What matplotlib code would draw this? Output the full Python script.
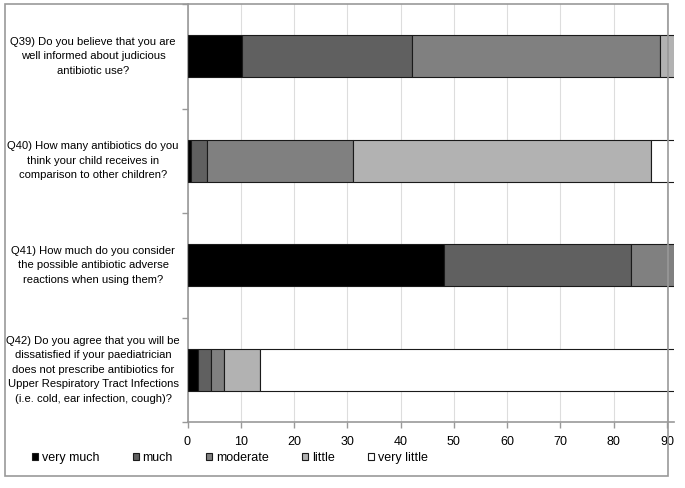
import numpy as np
import matplotlib

matplotlib.use('Agg')
import matplotlib.pyplot as plt
from matplotlib.patches import Rectangle

plt.rcParams['font.family'] = ['Liberation Sans', 'DejaVu Sans']

questions = [
    'Q39) Do you believe that you are\nwell informed about judicious\nantibiotic use?',
    'Q40) How many antibiotics do you\nthink your child receives in\ncomparison to other children?',
    'Q41) How much do you consider\nthe possible antibiotic adverse\nreactions when using them?',
    'Q42) Do you agree that you will be\ndissatisfied if your paediatrician\ndoes not prescribe antibiotics for\n'
    'Upper Respiratory Tract Infections\n(i.e. cold, ear infection, cough)?',
]
categories = ['very much', 'much', 'moderate', 'little', 'very little']
very_much = [10.2, 0.6, 48.2, 1.9]
much = [31.9, 3.0, 35.1, 2.5]
moderate = [46.6, 27.4, 16.7, 2.5]
little = [11.3, 56.0, 0.0, 6.8]
very_little = [0.0, 13.0, 0.0, 86.3]
series = [very_much, much, moderate, little, very_little]
colors = ['#000000', '#606060', '#808080', '#b2b2b2', '#ffffff']

W, H = 685, 488
fig = plt.figure(figsize=(W / 100, H / 100), dpi=100)

# plot area in pixels
x0_px, x1_px = 187.5, 674.4
y_top, y_bot = 4, 422
ax = fig.add_axes([x0_px / W, 1 - y_bot / H, (x1_px - x0_px) / W, (y_bot - y_top) / H])

ypos = np.arange(len(questions))
left = np.zeros(len(questions))
for vals, col, name in zip(series, colors, categories):
    vals = np.array(vals)
    ax.barh(ypos, vals, left=left, height=0.4, color=col, edgecolor='#1a1a1a',
            linewidth=0.8, label=name, zorder=3)
    left += vals

ax.set_xlim(0, 91.4)
ax.set_ylim(3.5, -0.5)
ax.set_xticks(np.arange(0, 91, 10))
ax.tick_params(axis='x', colors='#999999', length=4, width=1, labelcolor='#000000',
               labelsize=9, pad=6)
ax.set_yticks(np.arange(-0.5, 3.6, 1.0))
ax.set_yticklabels([])
ax.tick_params(axis='y', colors='#999999', length=4, width=1)
ax.grid(axis='x', color='#dddddd', linewidth=0.8, zorder=0)
for s in ['top', 'right']:
    ax.spines[s].set_visible(False)
for s in ['left', 'bottom']:
    ax.spines[s].set_color('#999999')
    ax.spines[s].set_linewidth(1.2)

for i, q in enumerate(questions):
    ax.text(-17.7, i, q, ha='center', va='center', fontsize=8.1,
            linespacing=1.55, transform=ax.transData, clip_on=False)

# outer chart border
fig.patches.append(Rectangle((5 / W, 1 - 476 / H), 663 / W, 472 / H,
                             transform=fig.transFigure, fill=False,
                             edgecolor='#999999', linewidth=1.2, zorder=0))

handles, labels = ax.get_legend_handles_labels()
fig.legend(handles, labels, loc='center left', bbox_to_anchor=(27 / W, 1 - 458 / H),
           ncol=5, frameon=False, fontsize=9, handlelength=0.5, handleheight=0.5,
           handletextpad=0.3, columnspacing=2.65, borderaxespad=0)

fig.savefig('out.png', dpi=100)
